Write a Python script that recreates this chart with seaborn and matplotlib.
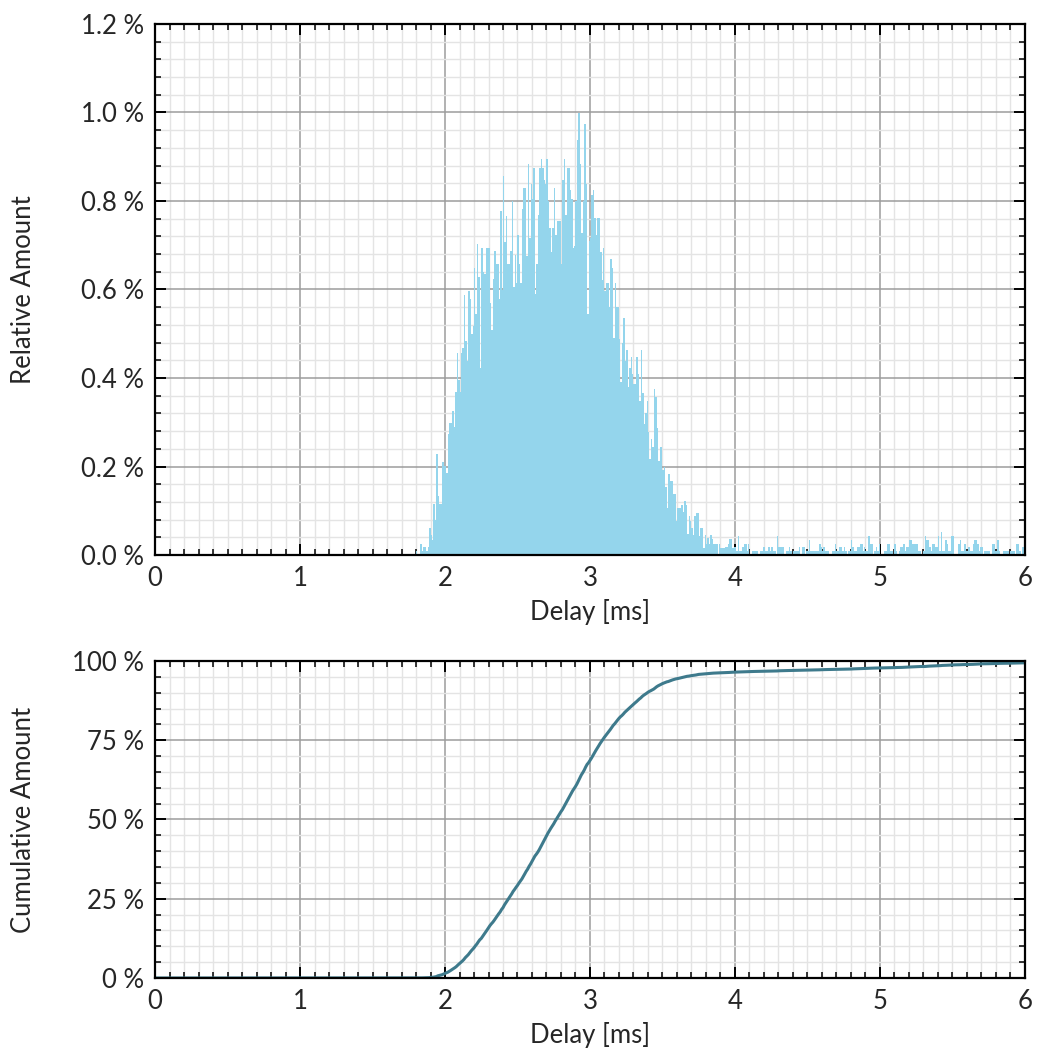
import numpy as np
import pandas as pd
import seaborn as sns
import matplotlib.pyplot as plt
import matplotlib.ticker as mtick

# share of all samples per 0.01 ms delay bin, in %, first bin starts at 1.80 ms
bin_width = 0.01
first_bin = 1.80
rel_amount = [
    # 1.80 - 2.29
    0.009, 0, 0, 0.026, 0.009, 0.019, 0.019, 0.009, 0.019, 0.060,
    0.045, 0.035, 0.115, 0.079, 0.228, 0.133, 0.115, 0.115, 0.210, 0.201,
    0.201, 0.186, 0.273, 0.298, 0.298, 0.325, 0.290, 0.368, 0.456, 0.395,
    0.368, 0.456, 0.468, 0.588, 0.484, 0.438, 0.597, 0.579, 0.499, 0.518,
    0.649, 0.545, 0.703, 0.629, 0.423, 0.694, 0.640, 0.635, 0.694, 0.694,
    # 2.30 - 2.79
    0.694, 0.570, 0.508, 0.624, 0.686, 0.658, 0.658, 0.579, 0.778, 0.599,
    0.857, 0.708, 0.765, 0.658, 0.658, 0.686, 0.801, 0.606, 0.678, 0.615,
    0.724, 0.657, 0.614, 0.782, 0.830, 0.830, 0.676, 0.884, 0.717, 0.839,
    0.805, 0.875, 0.589, 0.657, 0.768, 0.875, 0.894, 0.875, 0.847, 0.839,
    0.894, 0.800, 0.739, 0.684, 0.739, 0.830, 0.724, 0.755, 0.755, 0.755,
    # 2.80 - 3.29
    0.657, 0.847, 0.894, 0.768, 0.875, 0.875, 0.824, 0.805, 0.693, 0.698,
    0.800, 0.938, 0.998, 0.884, 0.727, 0.800, 0.973, 0.839, 0.544, 0.709,
    0.716, 0.814, 0.824, 0.761, 0.724, 0.761, 0.761, 0.684, 0.621, 0.693,
    0.596, 0.614, 0.614, 0.560, 0.668, 0.648, 0.490, 0.614, 0.560, 0.560,
    0.489, 0.390, 0.480, 0.535, 0.438, 0.464, 0.379, 0.422, 0.448, 0.410,
    # 3.30 - 3.79
    0.387, 0.387, 0.448, 0.410, 0.349, 0.463, 0.367, 0.297, 0.320, 0.349,
    0.279, 0.218, 0.263, 0.245, 0.376, 0.357, 0.288, 0.212, 0.245, 0.245,
    0.193, 0.199, 0.153, 0.107, 0.184, 0.167, 0.167, 0.139, 0.139, 0.078,
    0.107, 0.107, 0.107, 0.114, 0.098, 0.123, 0.114, 0.048, 0.088, 0.078,
    0.062, 0.046, 0.088, 0.096, 0.096, 0.043, 0.060, 0.060, 0.016, 0.045,
    # 3.80 - 4.28
    0.026, 0.038, 0.026, 0.045, 0.036, 0.026, 0.026, 0.026, 0, 0.026,
    0.015, 0.017, 0.017, 0.019, 0.019, 0.026, 0.036, 0.036, 0.017,
    0.018, 0.018, 0.009, 0.044, 0.009, 0.009, 0.018, 0.026, 0.026, 0.009,
    0.026, 0, 0, 0.009, 0.009, 0.009, 0.009, 0, 0.009, 0.009,
    0.018, 0.018, 0.009, 0.009, 0.018, 0.009, 0.018, 0.009, 0.009, 0,
    # 4.29 - 4.78
    0.044, 0.018, 0.018, 0.018, 0.018, 0, 0.009, 0.009, 0.018, 0.009,
    0, 0.009, 0.009, 0.009, 0.009, 0.018, 0, 0.018, 0.018, 0,
    0.009, 0.009, 0.035, 0.009, 0.009, 0.009, 0.009, 0.009, 0.009, 0.026,
    0.018, 0.009, 0.018, 0.009, 0.009, 0.009, 0, 0, 0.009, 0.009,
    0.026, 0.009, 0.009, 0.018, 0.018, 0.009, 0.018, 0.009, 0, 0.009,
    # 4.79 - 5.28
    0.009, 0.035, 0.018, 0.009, 0.009, 0.018, 0.018, 0.026, 0.026, 0.009,
    0.018, 0.009, 0.009, 0.044, 0.026, 0.026, 0, 0.009, 0.018, 0.009,
    0.026, 0, 0, 0, 0.009, 0.009, 0.026, 0.026, 0.009, 0.009,
    0, 0.026, 0.009, 0, 0.009, 0.018, 0.018, 0.026, 0.009, 0.018,
    0.018, 0.035, 0.035, 0.026, 0.026, 0.026, 0.026, 0.009, 0.009, 0,
    # 5.29 - 5.78
    0, 0.009, 0.044, 0.035, 0.035, 0.018, 0.009, 0.026, 0.026, 0.018,
    0.018, 0.044, 0.009, 0.053, 0.009, 0.009, 0.035, 0.026, 0.009, 0.009,
    0.044, 0.044, 0, 0, 0, 0.026, 0.035, 0.009, 0.009, 0.026,
    0.009, 0.009, 0.018, 0.009, 0.009, 0.026, 0.035, 0.035, 0.026, 0.009,
    0.018, 0.018, 0, 0.009, 0.009, 0.009, 0.009, 0, 0.026, 0.026,
    # 5.79 - 5.99
    0.009, 0.009, 0.035, 0.009, 0, 0, 0.009, 0.009, 0.009, 0.009,
    0, 0.009, 0.009, 0.009, 0, 0.026, 0.026, 0.009, 0, 0.018, 0.018,
]

x_ticks = [0, 1, 2, 3, 4, 5, 6]

bar_color = "#94d5ec"
line_color = "#3e7a8c"

# full 0..6 ms bin table, empty bins before the first sample
n_empty = int(round(first_bin / bin_width))
pct = np.concatenate([np.zeros(n_empty), np.array(rel_amount)])
left = np.arange(len(pct)) * bin_width
df = pd.DataFrame({"delay": left + bin_width / 2, "pct": pct})
cdf = pd.DataFrame({"delay": np.concatenate([[0], left + bin_width]),
                    "cum": np.concatenate([[0], np.cumsum(pct)])})

sns.set_style("white")
plt.rcParams["font.family"] = ["Lato", "DejaVu Sans"]
fs = 18.5

fig = plt.figure(figsize=(10.39, 10.55), dpi=100)
ax1 = fig.add_axes([0.1492, 0.4739, 0.8373, 0.5034])
ax2 = fig.add_axes([0.1492, 0.0730, 0.8373, 0.3005])

sns.histplot(data=df, x="delay", weights="pct", binwidth=bin_width, binrange=(0, 6),
             color=bar_color, alpha=1, linewidth=0, ax=ax1)
sns.lineplot(data=cdf, x="delay", y="cum", color=line_color, linewidth=2.2, ax=ax2)

ax1.set_ylim(0, 1.2)
ax1.yaxis.set_major_locator(mtick.MultipleLocator(0.2))
ax1.yaxis.set_minor_locator(mtick.MultipleLocator(0.04))
ax1.yaxis.set_major_formatter(mtick.FuncFormatter(lambda v, p: f"{v:.1f} %"))
ax1.set_ylabel("Relative Amount", size=fs)

ax2.set_ylim(0, 100)
ax2.yaxis.set_major_locator(mtick.MultipleLocator(25))
ax2.yaxis.set_minor_locator(mtick.MultipleLocator(5))
ax2.yaxis.set_major_formatter(mtick.FuncFormatter(lambda v, p: f"{v:.0f} %"))
ax2.set_ylabel("Cumulative Amount", size=fs)

for ax in (ax1, ax2):
    ax.set_xlim(0, 6)
    ax.set_xticks(x_ticks)
    ax.xaxis.set_minor_locator(mtick.MultipleLocator(0.1))
    ax.set_xlabel("Delay [ms]", size=fs, labelpad=6)
    ax.yaxis.set_label_coords(-0.137, 0.5)
    ax.set_axisbelow(True)
    ax.grid(which="minor", color="#e4e4e4", linewidth=1.0)
    ax.grid(which="major", color="#9c9c9c", linewidth=1.1)
    ax.tick_params(which="both", direction="in", top=True, right=True,
                   bottom=True, left=True, labelsize=fs, color="black")
    ax.tick_params(which="major", length=8, width=1.4, pad=8)
    ax.tick_params(which="minor", length=4, width=1.1)
    for s in ax.spines.values():
        s.set_visible(True)
        s.set_color("black")
        s.set_linewidth(1.6)

fig.savefig("out.png", dpi=100)
